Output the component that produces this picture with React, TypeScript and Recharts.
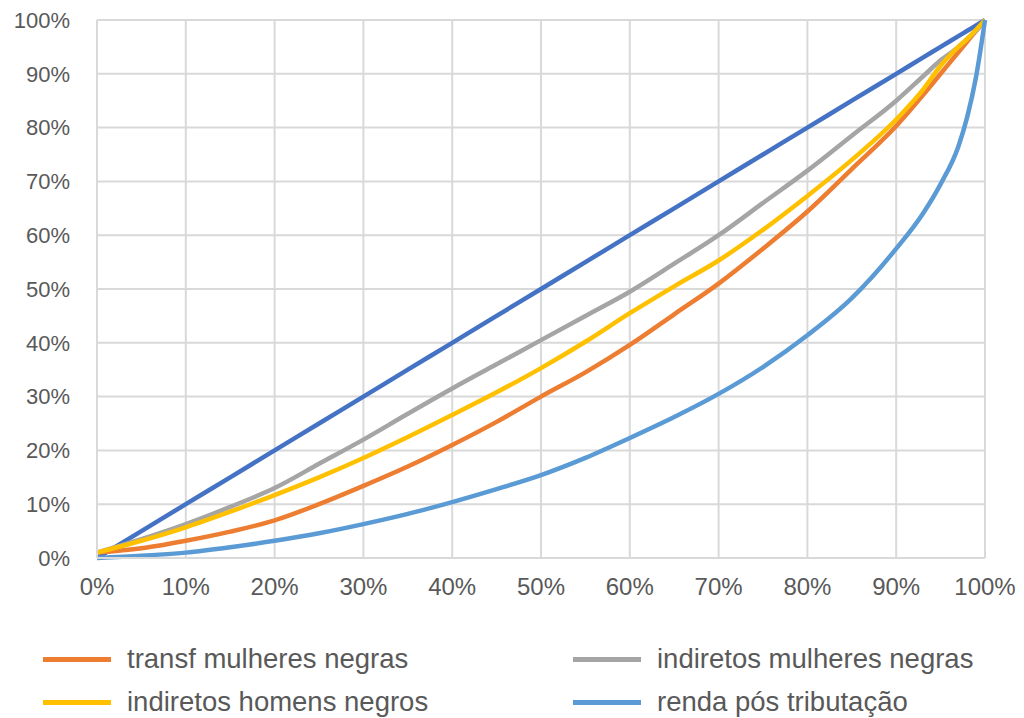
import React from "react";
import { LineChart, Line, XAxis, YAxis, CartesianGrid } from "recharts";

const xPct = [0, 5, 10, 15, 20, 25, 30, 35, 40, 45, 50, 55, 60, 65, 70, 75, 80, 85, 90, 93, 95, 97, 98, 99, 100];
const igualdade = [0, 5, 10, 15, 20, 25, 30, 35, 40, 45, 50, 55, 60, 65, 70, 75, 80, 85, 90, 93, 95, 97, 98, 99, 100];
const transfMulheresNegras = [1, 1.8, 3.2, 4.9, 7, 10, 13.4, 17, 21, 25.3, 30, 34.5, 39.6, 45.3, 51, 57.5, 64.4, 72.3, 80.3, 86, 90, 94, 96, 98, 100];
const indiretosMulheresNegras = [1, 3.5, 6.3, 9.5, 13, 17.5, 22, 26.8, 31.5, 36, 40.5, 45, 49.5, 54.7, 60, 66, 72, 78.5, 85, 89.5, 92.5, 95, 96.5, 98, 100];
const indiretosHomensNegros = [1, 3.2, 5.7, 8.6, 11.7, 15, 18.6, 22.5, 26.6, 30.8, 35.3, 40.2, 45.5, 50.5, 55.3, 61, 67.3, 74, 81.5, 87, 91.5, 95, 96.5, 98.2, 100];
const rendaPosTributacao = [0, 0.4, 1, 2, 3.2, 4.6, 6.3, 8.2, 10.4, 12.8, 15.4, 18.6, 22.3, 26.2, 30.5, 35.5, 41.4, 48.3, 57.5, 64, 69.5, 76.5, 82, 89.5, 100];
const tickValues = [0, 10, 20, 30, 40, 50, 60, 70, 80, 90, 100];

const seriesDefs = [
  { key: "igualdade", name: "igualdade", color: "#4472C4", values: igualdade, legend: false },
  { key: "transf", name: "transf mulheres negras", color: "#ED7D31", values: transfMulheresNegras, legend: true },
  { key: "indMul", name: "indiretos mulheres negras", color: "#A5A5A5", values: indiretosMulheresNegras, legend: true },
  { key: "indHom", name: "indiretos homens negros", color: "#FFC000", values: indiretosHomensNegros, legend: true },
  { key: "renda", name: "renda pós tributação", color: "#5B9BD5", values: rendaPosTributacao, legend: true },
];

const data = xPct.map((x, i) => {
  const row: Record<string, number> = { x };
  seriesDefs.forEach((s) => {
    row[s.key] = s.values[i];
  });
  return row;
});

const legendPos = [
  { left: 43, top: 659 },
  { left: 573, top: 659 },
  { left: 43, top: 702 },
  { left: 573, top: 702 },
];

export default function App() {
  const legendItems = seriesDefs.filter((s) => s.legend);
  return (
    <div
      style={{
        position: "absolute",
        left: 0,
        top: 0,
        width: 1024,
        height: 718,
        background: "#fff",
        fontFamily: "'Liberation Sans', Arial, sans-serif",
      }}
    >
      <LineChart width={1024} height={718} data={data} margin={{ top: 20, right: 39, left: 0, bottom: 100 }}>
        <CartesianGrid stroke="#d9d9d9" strokeWidth={2} />
        <XAxis
          dataKey="x"
          type="number"
          domain={[0, 100]}
          ticks={tickValues}
          tickFormatter={(v) => `${v}%`}
          height={60}
          axisLine={{ stroke: "#d9d9d9", strokeWidth: 2 }}
          tickLine={false}
          tickMargin={14}
          tick={{ fontSize: 24, fill: "#595959" }}
        />
        <YAxis
          type="number"
          domain={[0, 100]}
          ticks={tickValues}
          tickFormatter={(v) => `${v}%`}
          width={97}
          axisLine={{ stroke: "#d9d9d9", strokeWidth: 2 }}
          tickLine={false}
          tickMargin={21}
          tick={{ fontSize: 22, fill: "#595959" }}
        />
        {seriesDefs.map((s) => (
          <Line
            key={s.key}
            dataKey={s.key}
            name={s.name}
            stroke={s.color}
            strokeWidth={4.5}
            dot={false}
            type="monotone"
            isAnimationActive={false}
          />
        ))}
      </LineChart>
      {legendItems.map((s, i) => (
        <div
          key={s.key}
          style={{
            position: "absolute",
            left: legendPos[i].left,
            top: legendPos[i].top - 18,
            height: 36,
            display: "flex",
            alignItems: "center",
            fontSize: 27.5,
            color: "#595959",
            whiteSpace: "nowrap",
          }}
        >
          <span style={{ display: "inline-block", width: 68, height: 5, background: s.color, marginRight: 16 }} />
          <span>{s.name}</span>
        </div>
      ))}
    </div>
  );
}
